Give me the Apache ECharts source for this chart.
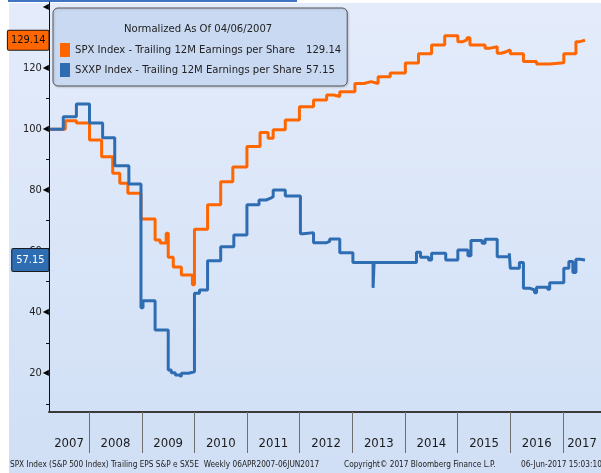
<!DOCTYPE html>
<html><head><meta charset="utf-8">
<script src="https://cdn.jsdelivr.net/npm/echarts@6/dist/echarts.min.js"></script>
<style>html,body{margin:0;padding:0;background:#fff}#c{width:601px;height:473px}</style>
</head><body><div id="c"></div>
<script>
// ---- data (step changes; each value holds until the next date) ----
const spxName = 'SPX Index - Trailing 12M Earnings per Share';
const sxxpName = 'SXXP Index - Trailing 12M Earnings per Share';
const spxDates = ['2007-04-06','2007-07-20','2007-10-05','2008-01-04','2008-03-28','2008-06-13','2008-08-01','2008-09-26','2008-12-26','2009-04-03','2009-05-08','2009-06-19','2009-07-03','2009-08-07','2009-10-02','2009-12-18','2010-01-01','2010-04-02','2010-07-02','2010-09-24','2010-12-31','2011-04-01','2011-05-27','2011-07-01','2011-09-23','2011-12-30','2012-04-06','2012-07-06','2012-08-24','2012-10-05','2013-01-18','2013-03-22','2013-05-10','2013-06-28','2013-09-20','2014-01-03','2014-04-04','2014-07-04','2014-10-03','2015-01-02','2015-02-06','2015-03-06','2015-03-27','2015-07-10','2015-08-07','2015-10-02','2015-10-30','2015-12-04','2016-01-01','2016-04-01','2016-07-01','2016-09-30','2017-01-06','2017-03-31','2017-04-28','2017-06-02'];
const spxValues = [100,102.8,102.0,96.5,91.0,85.6,82.3,79.0,70.6,63.7,62.7,65.9,58.0,54.8,52.2,49.0,67.2,75.2,82.8,87.6,94.3,98.9,97.0,99.8,103.0,107.4,109.6,111.2,110.7,112.3,115.0,115.6,115.0,117.2,118.4,121.7,124.7,127.6,130.6,128.7,129.3,130.0,127.6,126.5,127.0,124.9,125.4,126.0,124.7,122.2,121.4,121.8,124.7,128.7,129.14,129.14];
const sxxpDates = ['2007-04-06','2007-07-06','2007-10-05','2008-01-04','2008-04-04','2008-06-27','2008-10-03','2008-12-26','2009-01-09','2009-04-03','2009-07-03','2009-07-24','2009-08-21','2009-09-18','2009-10-02','2009-11-20','2010-01-01','2010-02-05','2010-04-02','2010-07-02','2010-10-01','2010-12-31','2011-03-25','2011-05-13','2011-06-10','2011-07-01','2011-09-23','2012-01-06','2012-01-27','2012-04-06','2012-07-06','2012-07-27','2012-10-05','2013-01-04','2013-05-24','2013-05-31','2014-03-21','2014-04-18','2014-06-13','2014-07-04','2014-10-10','2015-01-02','2015-03-13','2015-04-03','2015-06-19','2015-07-10','2015-10-02','2015-12-25','2016-01-01','2016-03-04','2016-04-01','2016-05-13','2016-06-17','2016-07-01','2016-09-16','2016-09-30','2017-01-06','2017-02-10','2017-03-10','2017-03-31','2017-04-28','2017-06-02'];
const sxxpValues = [100,104.1,108.3,102.0,97.2,88.0,82.0,41.5,43.8,34.2,21.1,20.2,19.4,18.9,20.0,20.5,46.2,47.3,56.9,61.5,65.3,75.2,76.8,77.3,77.9,80.1,78.1,65.7,66.1,62.8,63.2,64.0,59.5,56.3,48.0,56.3,59.7,58.0,57.1,59.3,57.1,60.4,58.5,63.5,62.6,63.9,58.2,59.3,54.4,56.3,47.9,47.3,46.4,48.2,47.5,49.7,54.4,56.6,53.0,57.4,57.15,57.15];
const yearLabels = ['2007','2008','2009','2010','2011','2012','2013','2014','2015','2016','2017'];
const yLabelValues = [20,40,60,80,100,120,140];
const yMinorTicks = [10,30,50,70,90,110,130];
const legendTitle = 'Normalized As Of 04/06/2007';
const footerLeft = 'SPX Index (S&P 500 Index) Trailing EPS S&P e SX5E  Weekly 06APR2007-06JUN2017';
const footerMid = 'Copyright\u00A9 2017 Bloomberg Finance L.P.';
const footerRight = '06-Jun-2017 15:03:10';

// ---- helpers ----
const FONT = "'DejaVu Sans Condensed','Liberation Sans Narrow','Liberation Sans',sans-serif";
function ts(s){const p=s.split('-').map(Number);return Date.UTC(p[0],p[1]-1,p[2]);}
function pairs(d,v){return d.map((x,i)=>[ts(x),v[i]]);}
const xMin = Date.UTC(2007,2,29), xMax = Date.UTC(2017,8,21);
const yearStarts = yearLabels.slice(1).map(y=>Date.UTC(+y,0,1));
const labelPos = yearLabels.map((y,i)=>{
  const a = Math.max(xMin, Date.UTC(+y,0,1)), b = Math.min(xMax, Date.UTC(+y+1,0,1));
  return (a+b)/2;
});
const spxLast = spxValues[spxValues.length-1], sxxpLast = sxxpValues[sxxpValues.length-1];
const lastMap = {}; lastMap[spxName]=spxLast.toFixed(2); lastMap[sxxpName]=sxxpLast.toFixed(2);

const ORANGE = '#ff6600', BLUE = '#2f6db3';
const chart = echarts.init(document.getElementById('c'), null, {renderer:'canvas'});
function endLabel(val,bg,fg,pad){
  return {silent:true,animation:false,z:20,
    symbol:'rect',symbolSize:1,itemStyle:{color:'rgba(0,0,0,0)'},
    label:{show:true,position:'left',distance:0,formatter:val.toFixed(2),
      backgroundColor:bg,color:fg,borderColor:'#1a1a1a',borderWidth:1,borderRadius:1,
      padding:pad,fontSize:11,fontFamily:FONT},
    data:[{coord:[xMin,val]}]};
}
const footStyle = {fontSize:8.2,fontWeight:'normal',color:'#222',fontFamily:FONT};
chart.setOption({
  animation:false,
  backgroundColor:'#ffffff',
  graphic:[
    {type:'rect',z:-100,silent:true,shape:{x:9,y:3,width:592,height:470},
      style:{fill:new echarts.graphic.LinearGradient(0,0,0,1,[{offset:0,color:'#e4ecfb'},{offset:1,color:'#d0dff5'}])}},
    {type:'rect',z:-99,silent:true,shape:{x:8,y:0,width:289,height:2},style:{fill:'#3f74c2'}}
  ],
  title:[
    {text:legendTitle,left:124,top:24,padding:0,textStyle:{fontSize:11.2,fontWeight:'normal',color:'#222',fontFamily:FONT}},
    {text:footerLeft,left:10,top:461,padding:0,textStyle:footStyle},
    {text:footerMid,left:344,top:461,padding:0,textStyle:footStyle},
    {text:footerRight,left:521,top:461,padding:0,textStyle:footStyle}
  ],
  legend:{
    left:53,top:8,orient:'vertical',icon:'rect',itemWidth:10,itemHeight:14,itemGap:6,itemTextGap:3,
    padding:[35,6,9,7],backgroundColor:'#c9d9f2',borderColor:'#555',borderWidth:1,borderRadius:5,
    shadowColor:'rgba(0,0,0,0.15)',shadowBlur:2,shadowOffsetX:1,shadowOffsetY:1,
    selectedMode:false,
    data:[spxName,sxxpName],
    formatter:n=>'{n|'+n+'}{v|'+lastMap[n]+'}',
    textStyle:{fontSize:11.2,fontFamily:FONT,color:'#222',
      rich:{n:{width:231,fontSize:11.2,fontFamily:FONT,color:'#222'},v:{fontSize:11.2,fontFamily:FONT,color:'#222'}}}
  },
  grid:{left:49,right:0,top:2,bottom:61,containLabel:false},
  xAxis:{
    type:'value',min:xMin,max:xMax,
    axisLine:{show:true,lineStyle:{color:'#3a3a3a',width:2}},
    axisTick:{show:true,length:41,customValues:yearStarts,lineStyle:{color:'#6e6e6e',width:1}},
    axisLabel:{show:true,customValues:labelPos,margin:25,fontSize:13,color:'#1a1a1a',fontFamily:FONT,
      formatter:v=>String(new Date(v).getUTCFullYear())},
    splitLine:{show:false}
  },
  yAxis:{
    type:'value',min:7.3,max:141.7,
    axisLine:{show:true,lineStyle:{color:'#111',width:1}},
    axisTick:{show:true,length:3,customValues:yMinorTicks,lineStyle:{color:'#111',width:1}},
    axisLabel:{show:true,customValues:yLabelValues,margin:0,fontSize:11,color:'#222',fontFamily:FONT,
      formatter:v=>(v===140?'':String(v))+'{t|\u25C0}',
      rich:{t:{fontSize:8,color:'#000',fontFamily:'DejaVu Sans',padding:[0,0,0,1]}}},
    splitLine:{show:false}
  },
  series:[
    {name:spxName,type:'line',step:'end',showSymbol:false,symbol:'none',data:pairs(spxDates,spxValues),
      itemStyle:{color:ORANGE},lineStyle:{color:ORANGE,width:3},z:3,clip:false,
      markPoint:endLabel(spxLast,ORANGE,'#111',[4,3,4,3])},
    {name:sxxpName,type:'line',step:'end',showSymbol:false,symbol:'none',data:pairs(sxxpDates,sxxpValues),
      itemStyle:{color:BLUE},lineStyle:{color:BLUE,width:3},z:4,clip:false,
      markPoint:endLabel(sxxpLast,BLUE,'#ffffff',[6,4,5,4])}
  ]
});
</script></body></html>
